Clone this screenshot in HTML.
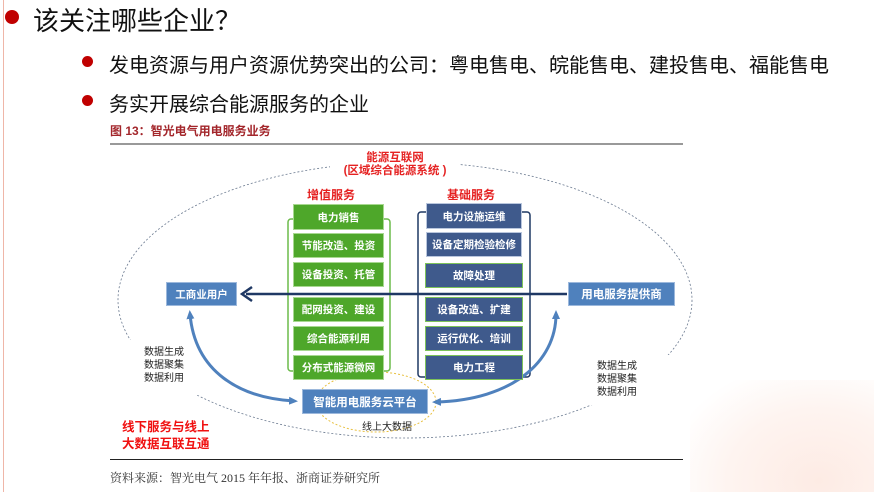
<!DOCTYPE html>
<html><head><meta charset="utf-8"><style>
body{margin:0;width:874px;height:492px;overflow:hidden;background:#fff;position:relative;font-family:"Liberation Sans","Noto Sans CJK SC",sans-serif}
.a{position:absolute;white-space:nowrap}
.bx{position:absolute;color:#fff;font-size:10.5px;font-weight:bold;display:flex;align-items:center;justify-content:center;box-sizing:border-box}
.g{background:#4ea72a;border:1px solid #a8d890}
.b{background:#3f5a8c;border:1px solid #b9c6dd}
.lb{background:#4f81bd;border:1px solid #9cb8dc}
.dot{position:absolute;border-radius:50%;background:#c00000}
</style></head><body>
<div style="position:absolute;left:690px;top:380px;width:184px;height:112px;background:radial-gradient(ellipse at 70% 90%,#fdebe4 0%,#fef4f0 50%,rgba(255,255,255,0) 85%)"></div>
<div style="position:absolute;left:3px;top:0;width:1px;height:492px;background:#efb6a8"></div>
<div class="dot" style="left:5px;top:10px;width:14px;height:14px"></div>
<div class="a" style="left:33px;top:1px;font-size:26px;color:#111">该关注哪些企业？</div>
<div class="dot" style="left:82px;top:56px;width:11px;height:11px"></div>
<div class="a" style="left:109px;top:49px;font-size:20px;color:#111">发电资源与用户资源优势突出的公司：粤电售电、皖能售电、建投售电、福能售电</div>
<div class="dot" style="left:82px;top:95px;width:11px;height:11px"></div>
<div class="a" style="left:109px;top:88px;font-size:20px;color:#111">务实开展综合能源服务的企业</div>
<div class="a" style="left:110px;top:122px;font-size:12px;font-weight:bold;color:#a3262b">图 13：智光电气用电服务业务</div>
<div style="position:absolute;left:110px;top:143px;width:573px;height:2px;background:#999"></div>
<div style="position:absolute;left:110px;top:459px;width:573px;height:1px;background:#222"></div>
<div class="a" style="left:110px;top:469px;font-size:12px;color:#333;font-family:'Liberation Serif','Noto Serif CJK SC',serif">资料来源：智光电气 2015 年年报、浙商证券研究所</div>
<svg width="874" height="492" style="position:absolute;left:0;top:0">
<defs><marker id="m" markerUnits="userSpaceOnUse" markerWidth="10" markerHeight="10" refX="5" refY="5" orient="auto-start-reverse"><path d="M0,1L9,5L0,9z" fill="#4f81bd"/></marker></defs>
<ellipse cx="405" cy="300" rx="287" ry="138" fill="none" stroke="#6b7a90" stroke-width="0.8" stroke-dasharray="2,2"/>
<rect x="330" y="150" width="130" height="30" fill="#fff"/>
<rect x="120" y="340" width="80" height="55" fill="#fff"/>
<rect x="590" y="355" width="80" height="50" fill="#fff"/>
<ellipse cx="376" cy="402" rx="60" ry="30" fill="none" stroke="#e8c040" stroke-width="1" stroke-dasharray="2,2"/>
<rect x="288" y="219" width="102" height="152" fill="none" stroke="#6cbb4a" stroke-width="1.5" rx="3"/>
<rect x="418" y="212" width="112" height="165" fill="none" stroke="#1f3864" stroke-width="1.5" rx="3"/>
<path d="M567,294 L246,294" stroke="#1f3864" stroke-width="2.5"/>
<path d="M252,287 L242,294 L252,301" fill="none" stroke="#1f3864" stroke-width="2.5"/>
<path d="M190,314 C195,372 240,398 294,401" fill="none" stroke="#4f81bd" stroke-width="3" marker-start="url(#m)" marker-end="url(#m)"/>
<path d="M436,402 C512,400 556,362 556,314" fill="none" stroke="#4f81bd" stroke-width="3" marker-start="url(#m)" marker-end="url(#m)"/>
</svg>
<div class="a" style="left:330px;top:152px;width:130px;text-align:center;font-size:11.5px;font-weight:bold;color:#e52222;line-height:13px">能源互联网<br>(区域综合能源系统 )</div>
<div class="a" style="left:307px;top:186px;font-size:12px;font-weight:bold;color:#e52222">增值服务</div>
<div class="a" style="left:447px;top:186px;font-size:12px;font-weight:bold;color:#e52222">基础服务</div>
<div class="bx g" style="left:293px;top:204px;width:91px;height:26px">电力销售</div>
<div class="bx g" style="left:293px;top:233px;width:91px;height:25px">节能改造、投资</div>
<div class="bx g" style="left:293px;top:262px;width:91px;height:25px">设备投资、托管</div>
<div class="bx g" style="left:293px;top:297px;width:91px;height:25px">配网投资、建设</div>
<div class="bx g" style="left:293px;top:326px;width:91px;height:25px">综合能源利用</div>
<div class="bx g" style="left:293px;top:355px;width:91px;height:25px">分布式能源微网</div>
<div class="bx b" style="left:426px;top:203px;width:96px;height:26px">电力设施运维</div>
<div class="bx b" style="left:426px;top:232px;width:96px;height:25px">设备定期检验检修</div>
<div class="bx b" style="left:425px;top:263px;width:98px;height:25px;border-color:#7dc35a">故障处理</div>
<div class="bx b" style="left:425px;top:297px;width:98px;height:25px;border-color:#7dc35a">设备改造、扩建</div>
<div class="bx b" style="left:425px;top:326px;width:98px;height:25px;border-color:#7dc35a">运行优化、培训</div>
<div class="bx b" style="left:425px;top:355px;width:98px;height:25px;border-color:#7dc35a">电力工程</div>
<div class="bx lb" style="left:166px;top:282px;width:71px;height:24px">工商业用户</div>
<div class="bx lb" style="left:568px;top:282px;width:107px;height:24px;font-size:11.5px">用电服务提供商</div>
<div class="bx lb" style="left:302px;top:389px;width:126px;height:25px;font-size:11.5px">智能用电服务云平台</div>
<div class="a" style="left:362px;top:418px;font-size:10px;color:#222">线上大数据</div>
<div class="a" style="left:144px;top:346px;font-size:10px;color:#222;line-height:13px">数据生成<br>数据聚集<br>数据利用</div>
<div class="a" style="left:597px;top:360px;font-size:10px;color:#222;line-height:13px">数据生成<br>数据聚集<br>数据利用</div>
<div class="a" style="left:122px;top:419px;font-size:12.5px;font-weight:bold;color:#f01010;line-height:17px">线下服务与线上<br>大数据互联互通</div>
</body></html>
